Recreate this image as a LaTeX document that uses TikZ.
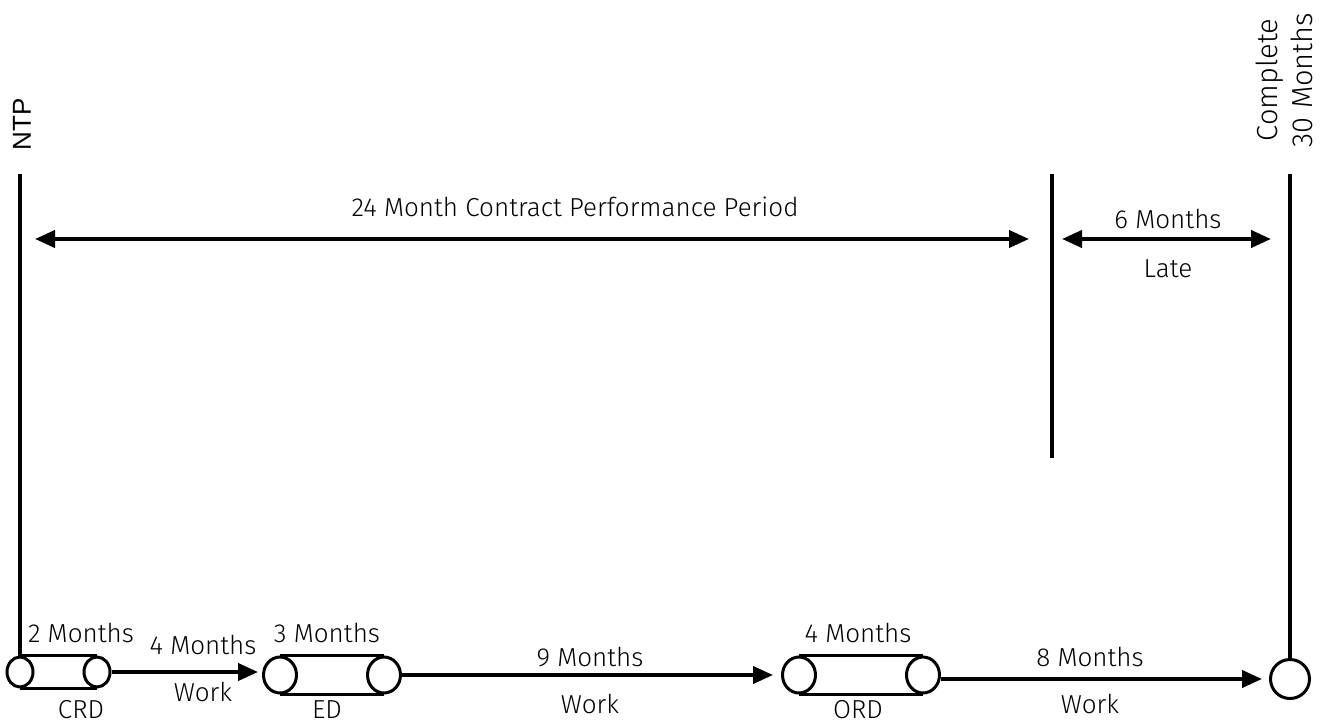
\documentclass[tikz,border=0pt]{standalone}
\usepackage{fontspec}
\setmainfont{Fira Sans Light}
\newfontfamily\arialfont{Liberation Sans}
\usetikzlibrary{arrows.meta,shapes.geometric}
\begin{document}
\begin{tikzpicture}[x=1pt,y=-1pt,
  line width=4pt,
  every node/.style={font=\fontsize{26}{30}\selectfont},
  lbl/.style={inner sep=0pt, anchor=center},
  endcap/.style={draw, ellipse, line width=3pt, inner sep=0pt, minimum width=#1, minimum height=30pt},
  endcap/.default=26pt,
  bigcap/.style={draw, ellipse, line width=3pt, inner sep=0pt, minimum width=33pt, minimum height=36pt},
  arr/.style={-{Triangle[length=20pt,width=17pt]}},
  darr/.style={{Triangle[length=20pt,width=17pt]}-{Triangle[length=20pt,width=17pt]}},
  band/.style={line width=3pt}
]
\useasboundingbox (0,0) rectangle (1325,725);

% CRD cylinder
\node[endcap] (crdL) at (20,672) {};
\node[endcap] (crdR) at (97,672) {};
\draw[band] (crdL.north) -- (crdR.north) (crdL.south) -- (crdR.south);
\node[lbl] (crdTop) at (81,633) {2 Months};
\node[lbl] (crd) at (81,710) {CRD};

% ED cylinder
\node[bigcap] (edL) at (280,675) {};
\node[bigcap] (edR) at (384,675) {};
\draw[band] (edL.north) -- (edR.north) (edL.south) -- (edR.south);
\node[lbl] (edTop) at (327,633) {3 Months};
\node[lbl] (ed) at (327,710) {ED};

% ORD cylinder
\node[bigcap] (ordL) at (799,675) {};
\node[bigcap] (ordR) at (923,675) {};
\draw[band] (ordL.north) -- (ordR.north) (ordL.south) -- (ordR.south);
\node[lbl] (ordTop) at (858,633) {4 Months};
\node[lbl] (ord) at (858,710) {ORD};

% completion milestone
\node[draw, circle, line width=3pt, inner sep=0pt, minimum size=39pt] (endC) at (1290,679) {};

% work links (kept horizontal, level with their start)
\draw[arr, shorten >=4pt] (crdR.east) -- (crdR.east -| edL.west);
\node[lbl] (w1a) at (203,645) {4 Months};
\node[lbl] (w1b) at (203,692) {Work};
\draw[arr, shorten >=8pt] (edR.east) -- (edR.east -| ordL.west);
\node[lbl] (w2a) at (590,657) {9 Months};
\node[lbl] (w2b) at (590,704) {Work};
\draw[arr, shorten >=7pt] (ordR.east |- endC.west) -- (endC.west);
\node[lbl] (w3a) at (1090,657) {8 Months};
\node[lbl] (w3b) at (1090,704) {Work};

% time lines
\coordinate (ntpTop) at (20,174);
\coordinate (endTop) at (1290,174);
\coordinate (dueTop) at (1052,174);
\coordinate (dueBot) at (1052,458);
\draw (crdL.north |- ntpTop) -- (crdL.north);
\draw (endC.north |- endTop) -- (endC.north);
\draw (dueTop) -- (dueBot);

% period arrows
\coordinate (pA) at (35,239);
\coordinate (pB) at (1029,239);
\coordinate (lA) at (1062,239);
\coordinate (lB) at (1271,239);
\draw[darr] (pA) -- (pB);
\draw[darr] (lA) -- (lB);
\node[lbl] (period) at (575,207) {24 Month Contract Performance Period};
\node[lbl] (late6) at (1168,219) {6 Months};
\node[lbl] (late) at (1168,269) {Late};

% milestone captions
\node[lbl, rotate=90, font=\arialfont\fontsize{26}{30}\selectfont] (ntp) at (22,124) {NTP};
\node[lbl, rotate=90, align=center, font=\fontsize{29}{35}\selectfont] (done) at (1284,80) {Complete\\30 Months};
\end{tikzpicture}
\end{document}
